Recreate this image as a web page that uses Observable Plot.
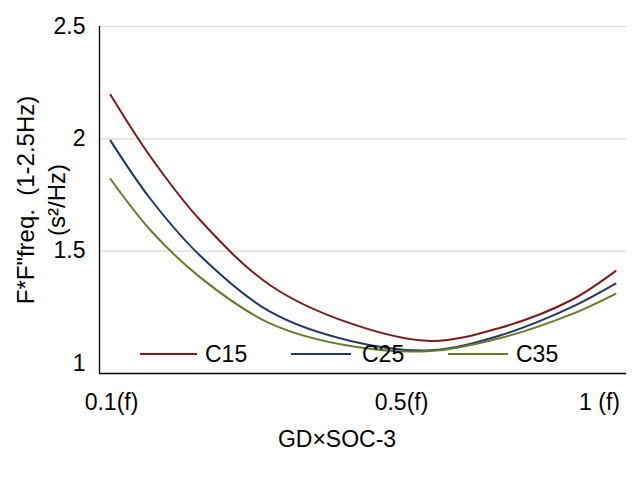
<!DOCTYPE html>
<html>
<head>
<meta charset="utf-8">
<script src="https://cdn.jsdelivr.net/npm/d3@7"></script>
<script src="https://cdn.jsdelivr.net/npm/@observablehq/plot@0.6"></script>
<style>
  html, body { margin: 0; padding: 0; background: #fff; }
  #chart { position: relative; width: 640px; height: 480px; }
</style>
</head>
<body>
<div id="chart"></div>
<script>
// Sample positions along the x (category) axis
const xs = [0, 8, 18, 32, 48, 64, 78, 92, 101];
const seriesNames = ["C15", "C25", "C35"];
const c15 = [2.196, 1.920, 1.636, 1.347, 1.178, 1.100, 1.159, 1.280, 1.411];
const c25 = [1.992, 1.732, 1.478, 1.229, 1.100, 1.058, 1.125, 1.248, 1.355];
const c35 = [1.821, 1.593, 1.382, 1.177, 1.077, 1.055, 1.113, 1.217, 1.310];
const colors = ["#7b1c1c", "#1f3864", "#687a2b"];
const xTickPos = [0.2, 58.2, 97.8];
const xTickLabels = ["0.1(f)", "0.5(f)", "1 (f)"];
const yTicks = [1, 1.5, 2, 2.5];
const yGrid = [1.5, 2, 2.5];
const xTitle = "GD×SOC-3";
const yTitle1 = "F*F\"freq. \u00a0(1-2.5Hz)";
const yTitle2 = "(s²/Hz)";

const values = [c15, c25, c35];
const rows = [];
seriesNames.forEach((s, i) => xs.forEach((x, j) => rows.push({series: s, x, y: values[i][j]})));

const xDomain = [-2.2, 103.2];
const yDomain = [0.955, 2.5];
const font = "'Liberation Sans', Arial, sans-serif";

const chart = Plot.plot({
  width: 640,
  height: 480,
  marginLeft: 99,
  marginRight: 14,
  marginTop: 26,
  marginBottom: 107,
  style: {fontFamily: font, fontSize: "23px", background: "white", color: "#000"},
  x: {domain: xDomain},
  y: {domain: yDomain},
  color: {domain: seriesNames, range: colors},
  marks: [
    Plot.ruleY(yGrid, {stroke: "#d9d9d9", strokeWidth: 1.2}),
    Plot.axisY({ticks: yTicks, tickSize: 0, tickPadding: 14, label: null, tickFormat: d => String(d), fontSize: 23}),
    Plot.axisX({ticks: xTickPos, tickSize: 0, tickPadding: 20, label: null,
      tickFormat: d => xTickLabels[xTickPos.indexOf(d)], fontSize: 23}),
    Plot.line(rows, {x: "x", y: "y", stroke: "series", strokeWidth: 2, curve: "catmull-rom"}),
    Plot.ruleX([xDomain[0]], {stroke: "#000", strokeWidth: 1.3}),
    Plot.ruleY([yDomain[0]], {stroke: "#000", strokeWidth: 1.3})
  ]
});
document.getElementById("chart").appendChild(chart);

const svg = d3.select(chart);
// axis titles
svg.append("text").attr("x", 337).attr("y", 439).attr("text-anchor", "middle")
  .attr("dominant-baseline", "central").attr("font-size", 23).attr("font-family", font).text(xTitle);
svg.append("text").attr("transform", "translate(25,200) rotate(-90)").attr("text-anchor", "middle")
  .attr("dominant-baseline", "central").attr("font-size", 24).attr("font-family", font)
  .attr("xml:space", "preserve").text(yTitle1);
svg.append("text").attr("transform", "translate(56,200) rotate(-90)").attr("text-anchor", "middle")
  .attr("dominant-baseline", "central").attr("font-size", 24).attr("font-family", font).text(yTitle2);

// legend
const legendX = [[140, 197, 205], [291, 351, 362], [448, 508, 516]];
const legendY = 354;
const lg = svg.append("g");
seriesNames.forEach((s, i) => {
  lg.append("line").attr("x1", legendX[i][0]).attr("x2", legendX[i][1]).attr("y1", legendY).attr("y2", legendY)
    .attr("stroke", colors[i]).attr("stroke-width", 2);
  lg.append("text").attr("x", legendX[i][2]).attr("y", legendY).attr("text-anchor", "start")
    .attr("dominant-baseline", "central")
    .attr("font-size", 23).attr("font-family", font).text(s);
});
</script>
</body>
</html>
